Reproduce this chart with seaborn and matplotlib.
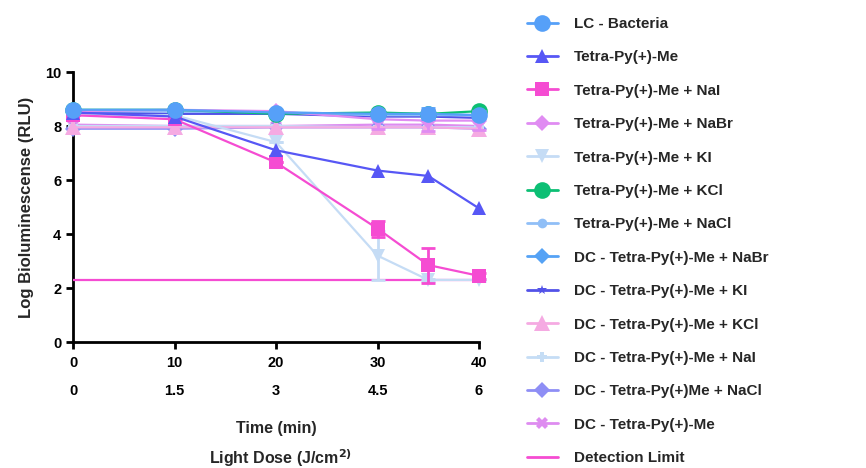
import numpy as np
import pandas as pd
import matplotlib
matplotlib.use("Agg")
import matplotlib.pyplot as plt
import seaborn as sns
from matplotlib.lines import Line2D

sns.set_theme(style="ticks")
plt.rcParams['font.family'] = ['Liberation Sans', 'DejaVu Sans']
plt.rcParams['font.weight'] = 'bold'

time_min = [0, 10, 20, 30, 35, 40]
tick_time = [0, 10, 20, 30, 40]
tick_dose = ["0", "1.5", "3", "4.5", "6"]

series_names = [
    "LC - Bacteria",
    "Tetra-Py(+)-Me",
    "Tetra-Py(+)-Me + NaI",
    "Tetra-Py(+)-Me + NaBr",
    "Tetra-Py(+)-Me + KI",
    "Tetra-Py(+)-Me + KCl",
    "Tetra-Py(+)-Me + NaCl",
    "DC - Tetra-Py(+)-Me + NaBr",
    "DC - Tetra-Py(+)-Me + KI",
    "DC - Tetra-Py(+)-Me + KCl",
    "DC - Tetra-Py(+)-Me + NaI",
    "DC - Tetra-Py(+)Me + NaCl",
    "DC - Tetra-Py(+)-Me",
]
lc_bacteria = [8.6, 8.6, 8.5, 8.45, 8.45, 8.4]
tetra = [8.5, 8.35, 7.1, 6.35, 6.15, 4.95]
tetra_nai = [8.4, 8.25, 6.65, 4.2, 2.85, 2.45]
tetra_nabr = [8.55, 8.6, 8.55, 8.25, 8.2, 8.2]
tetra_ki = [8.4, 8.4, 7.4, 3.2, 2.3, 2.3]
tetra_kcl = [8.6, 8.6, 8.45, 8.5, 8.45, 8.55]
tetra_nacl = [8.55, 8.55, 8.5, 8.4, 8.4, 8.4]
dc_nabr = [8.55, 8.55, 8.5, 8.45, 8.45, 8.4]
dc_ki = [8.5, 8.45, 8.45, 8.35, 8.35, 8.3]
dc_kcl = [7.95, 7.95, 7.95, 7.95, 7.95, 7.9]
dc_nai = [8.0, 8.0, 8.0, 7.95, 7.95, 7.95]
dc_nacl = [7.9, 7.9, 7.95, 7.95, 7.95, 7.9]
dc_tetra = [8.05, 8.0, 8.0, 8.05, 8.05, 8.0]
values = [lc_bacteria, tetra, tetra_nai, tetra_nabr, tetra_ki, tetra_kcl, tetra_nacl,
          dc_nabr, dc_ki, dc_kcl, dc_nai, dc_nacl, dc_tetra]

err_lc = [0, 0, 0, 0.1, 0.2, 0.1]
err_nai = [0, 0, 0, 0.3, 0.65, 0.1]
err_nabr = [0, 0, 0, 0.35, 0.4, 0.35]
err_ki = [0, 0, 0, 0.9, 0.05, 0.05]
errors = {0: err_lc, 2: err_nai, 3: err_nabr, 4: err_ki}

detection_limit = 2.3

colors = ['#56A0F8', '#5757F5', '#F54CD2', '#E08CF2', '#C5DCF5', '#0CBF74', '#90BFF7',
          '#55A2F5', '#5252E8', '#F5AAE2', '#C5DDF5', '#8E8EF5', '#DE8CF0']
markers = ['o', '^', 's', 'D', 'v', 'o', 'o', 'D', '*', '^', 'P', 'D', 'X']
msizes = [12, 10, 10, 8, 10, 12, 7, 8, 7, 12, 7, 8, 8]
det_color = '#F54CD2'

fig = plt.figure(figsize=(8.66, 4.68), dpi=100)
ax = fig.add_axes([73/866, 1-342/468, (479-73)/866, (342-72)/468])

n = len(series_names)
for i, (name, vals) in enumerate(zip(series_names, values)):
    df = pd.DataFrame({"t": time_min, "v": vals})
    z = 100 - i
    sns.lineplot(data=df, x="t", y="v", ax=ax, color=colors[i], marker=markers[i],
                 markersize=msizes[i], markeredgewidth=0, linewidth=1.6,
                 zorder=z, clip_on=False, legend=False)
    if i in errors:
        ax.errorbar(time_min, vals, yerr=errors[i], fmt='none', ecolor=colors[i],
                    elinewidth=2, capsize=5, capthick=2, zorder=z - 0.5, clip_on=False)

ax.plot([0, 40], [detection_limit, detection_limit], color=det_color, linewidth=1.6, zorder=5)

ax.set_xlim(0, 40)
ax.set_ylim(0, 10)
ax.set_yticks([0, 2, 4, 6, 8, 10])
ax.set_xticks(tick_time)
ax.set_xticklabels([f"{t}\n{d}" for t, d in zip(tick_time, tick_dose)])
for lab in ax.get_xticklabels():
    lab.set_linespacing(2.3)
    lab.set_fontweight('bold')
for lab in ax.get_yticklabels():
    lab.set_fontweight('bold')
ax.tick_params(axis='both', labelsize=10.5, width=2, length=5, color='black', labelcolor='black')
ax.tick_params(axis='x', pad=5)
for s in ['left', 'bottom']:
    ax.spines[s].set_linewidth(2)
    ax.spines[s].set_color('black')
sns.despine(ax=ax)
ax.set_xlabel("")
ax.set_ylabel("Log Bioluminescense (RLU)", fontsize=12, fontweight='bold', labelpad=8)
ax.set_facecolor('white')

fig.text(276/866, 1-428/468, "Time (min)", ha='center', va='center', fontsize=11.5, fontweight='bold')
fig.text(280/866, 1-458/468, "Light Dose (J/cm$^{\\mathbf{2)}}$", ha='center', va='center',
         fontsize=11.5, fontweight='bold')

handles = []
for i in range(n):
    handles.append(Line2D([0], [0], color=colors[i], marker=markers[i], markersize=msizes[i],
                          markeredgewidth=0, linewidth=2))
handles.append(Line2D([0], [0], color=det_color, linewidth=2))
labels = series_names + ["Detection Limit"]
leg = fig.legend(handles, labels, loc='upper left', bbox_to_anchor=(527/866, 1 - 17/468),
                 frameon=False, fontsize=11, handlelength=2.0, labelspacing=1.27,
                 handletextpad=1.1, borderaxespad=0, borderpad=0)
for t in leg.get_texts():
    t.set_fontweight('bold')

fig.savefig("out.png", dpi=100, facecolor='white')
